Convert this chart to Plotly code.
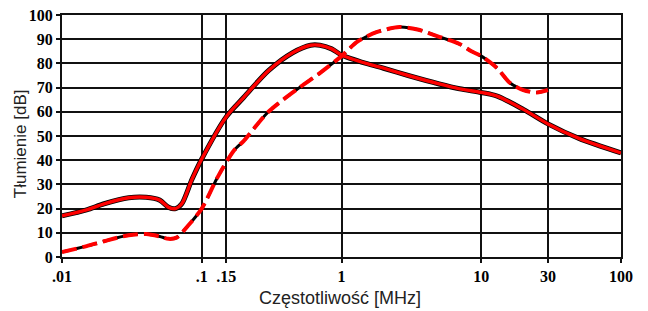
import plotly.graph_objects as go

# Frequency [MHz] and attenuation [dB]
solid_freq = [0.01, 0.015, 0.02, 0.03, 0.04, 0.05, 0.058, 0.065, 0.072, 0.085, 0.1, 0.15, 0.2, 0.3,
              0.45, 0.6, 0.7, 0.85, 1.0, 1.5, 2, 3, 5, 7, 10, 13, 20, 30, 50, 100]
solid_db = [17, 19.5, 22, 24.5, 24.7, 23.5, 20.5, 20, 22, 32, 40.5, 58, 66, 77,
            84.5, 87.5, 87.5, 86, 83.5, 80, 78, 75, 71.5, 69.5, 68, 66.5, 61, 55, 49, 43]

dash_freq = [0.01, 0.015, 0.02, 0.03, 0.04, 0.05, 0.058, 0.066, 0.08, 0.1, 0.13, 0.17, 0.2, 0.3,
             0.5, 0.7, 1.0, 1.3, 1.8, 2.6, 3.5, 5, 7, 8.5, 10, 13, 16, 20, 25, 30]
dash_db = [2, 4.5, 6.5, 9, 9.5, 8.5, 7.5, 8, 13, 20, 33, 44, 48, 60,
           70, 76, 83, 89, 93, 95, 94, 91, 88, 85, 83, 78, 72, 69, 68, 69]

x_tick_vals = [0.01, 0.1, 0.15, 1, 10, 30, 100]
x_tick_text = [".01", ".1", ".15", "1", "10", "30", "100"]
y_tick_vals = [0, 10, 20, 30, 40, 50, 60, 70, 80, 90, 100]

fig = go.Figure()
# solid curve: black edge under red
fig.add_trace(go.Scatter(x=solid_freq, y=solid_db, mode="lines",
                         line=dict(color="black", width=5, shape="spline", smoothing=0.8),
                         showlegend=False, hoverinfo="skip"))
fig.add_trace(go.Scatter(x=solid_freq, y=solid_db, mode="lines",
                         line=dict(color="#ff0000", width=3.4, shape="spline", smoothing=0.8),
                         showlegend=False))
# dashed curve
fig.add_trace(go.Scatter(x=dash_freq, y=dash_db, mode="lines",
                         line=dict(color="black", width=3, shape="spline", smoothing=0.8, dash="8px,6px"),
                         showlegend=False, hoverinfo="skip"))
fig.add_trace(go.Scatter(x=dash_freq, y=dash_db, mode="lines",
                         line=dict(color="#ff0000", width=4, shape="spline", smoothing=0.8, dash="15px,6px"),
                         showlegend=False))

tick_font = dict(family="Liberation Sans Narrow", size=16, color="black", weight="bold")

fig.update_layout(
    width=640, height=303,
    margin=dict(l=54, r=27, t=7, b=54, autoexpand=False),
    paper_bgcolor="white", plot_bgcolor="white",
    xaxis=dict(type="log", range=[-2, 2], tickvals=x_tick_vals, ticktext=x_tick_text,
               showgrid=True, gridcolor="#111", gridwidth=1.6,
               showline=True, linecolor="#111", linewidth=2, mirror=True,
               ticks="outside", ticklen=4, tickcolor="#111", tickwidth=2,
               tickfont=tick_font, zeroline=False, automargin=False,
               ticklabeloverflow="allow"),
    yaxis=dict(range=[0, 100], tickvals=y_tick_vals,
               showgrid=True, gridcolor="#111", gridwidth=1.6,
               showline=True, linecolor="#111", linewidth=2, mirror=True,
               ticks="outside", ticklen=4, tickcolor="#111", tickwidth=2,
               tickfont=tick_font, zeroline=False, automargin=False,
               ticklabeloverflow="allow"),
    annotations=[
        dict(text="Częstotliwość [MHz]", xref="paper", yref="paper", x=0.497, y=-0.168,
             xanchor="center", yanchor="middle", showarrow=False,
             font=dict(family="Liberation Sans", size=18, color="#222")),
        dict(text="Tłumienie [dB]", xref="paper", yref="paper", x=-0.073, y=0.467,
             xanchor="center", yanchor="middle", textangle=-90, showarrow=False,
             font=dict(family="Liberation Sans", size=17, color="#222")),
    ],
)

fig.write_html("out.html")
